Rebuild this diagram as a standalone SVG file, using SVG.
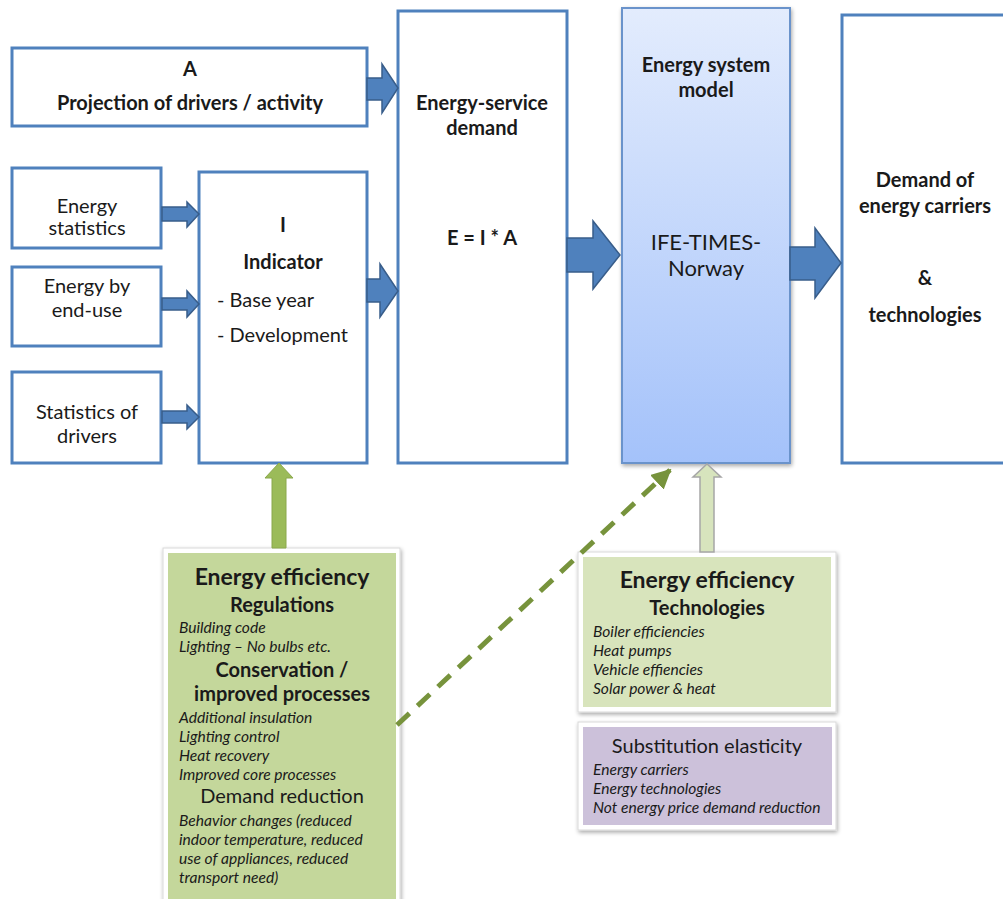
<svg xmlns="http://www.w3.org/2000/svg" width="1003" height="899" viewBox="0 0 1003 899">
<defs>
<style>
.box{fill:#fff;stroke:#4f81bd;stroke-width:3}
.arr{fill:#4f81bd;stroke:#385d8a;stroke-width:1.5}
text{font-family:Lato,"Liberation Sans",sans-serif;fill:#1a1a1a}
.t{font-size:20px}
.b{font-size:20px;font-weight:bold}
.c{text-anchor:middle}
.big{font-size:23px;font-weight:bold}
.i{font-size:15.6px;font-style:italic}
</style>
<linearGradient id="gblue" x1="0" y1="0" x2="0" y2="1">
<stop offset="0" stop-color="#e3ecfd"/>
<stop offset="1" stop-color="#a4c2fa"/>
</linearGradient>
<filter id="sh" x="-10%" y="-10%" width="130%" height="130%">
<feGaussianBlur in="SourceAlpha" stdDeviation="2"/>
<feOffset dx="1" dy="2" result="o"/>
<feComponentTransfer><feFuncA type="linear" slope="0.35"/></feComponentTransfer>
<feMerge><feMergeNode/><feMergeNode in="SourceGraphic"/></feMerge>
</filter>
<marker id="gh" viewBox="0 0 10 10" refX="9" refY="5" markerWidth="4" markerHeight="4" orient="auto" markerUnits="strokeWidth">
<path d="M0,0 L10,5 L0,10 z" fill="#77933c"/>
</marker>
</defs>
<rect width="1003" height="899" fill="#fff"/>

<g id="nodeA">
<rect class="box" x="12" y="48" width="355" height="78"/>
<text class="b c" x="190" y="76">A</text>
<text class="b c" x="190" y="110">Projection of drivers / activity</text>
</g>

<g id="nodeStat">
<rect class="box" x="12" y="168" width="149" height="80"/>
<text class="t c" x="87" y="213">Energy</text>
<text class="t c" x="87" y="235">statistics</text>
</g>

<g id="nodeEndUse">
<rect class="box" x="12" y="267" width="149" height="79"/>
<text class="t c" x="87" y="293">Energy by</text>
<text class="t c" x="87" y="317">end-use</text>
</g>

<g id="nodeDrivers">
<rect class="box" x="12" y="372" width="149" height="91"/>
<text class="t c" x="87" y="419">Statistics of</text>
<text class="t c" x="87" y="443">drivers</text>
</g>

<g id="nodeIndicator">
<rect class="box" x="199" y="172" width="168" height="291"/>
<text class="b c" x="283" y="232">I</text>
<text class="b c" x="283" y="269">Indicator</text>
<text class="t" x="217" y="307">- Base year</text>
<text class="t" x="217" y="342">- Development</text>
</g>

<g id="nodeESD">
<rect class="box" x="398" y="11" width="169" height="452"/>
<text class="b c" x="482" y="110">Energy-service</text>
<text class="b c" x="482" y="135">demand</text>
<text class="b c" x="482" y="245">E = I * A</text>
</g>

<g id="nodeIFE">
<rect x="622" y="8" width="168" height="455" fill="url(#gblue)" stroke="#6b93cb" stroke-width="2" filter="url(#sh)"/>
<text class="b c" x="706" y="72">Energy system</text>
<text class="b c" x="706" y="97">model</text>
<text class="c" x="706" y="250" style="font-size:22px">IFE-TIMES-</text>
<text class="c" x="706" y="276" style="font-size:22px">Norway</text>
</g>

<g id="nodeDemand">
<rect class="box" x="842" y="15" width="175" height="448"/>
<text class="b c" x="925" y="187">Demand of</text>
<text class="b c" x="925" y="213">energy carriers</text>
<text class="b c" x="925" y="285">&amp;</text>
<text class="b c" x="925" y="322">technologies</text>
</g>

<g id="nodeEELeft">
<rect x="163" y="548" width="237" height="360" fill="#fff" stroke="#d9d9d9" stroke-width="1" filter="url(#sh)"/>
<rect x="168" y="553" width="228" height="355" fill="#c4d79b"/>
<text class="big c" x="282" y="585">Energy efficiency</text>
<text class="b c" x="282" y="612">Regulations</text>
<text class="i" x="179" y="633">Building code</text>
<text class="i" x="179" y="652">Lighting – No bulbs etc.</text>
<text class="b c" x="282" y="677">Conservation /</text>
<text class="b c" x="282" y="701">improved processes</text>
<text class="i" x="179" y="723">Additional insulation</text>
<text class="i" x="179" y="742">Lighting control</text>
<text class="i" x="179" y="761">Heat recovery</text>
<text class="i" x="179" y="780">Improved core processes</text>
<text class="t c" x="282" y="803">Demand reduction</text>
<text class="i" x="179" y="826">Behavior changes (reduced</text>
<text class="i" x="179" y="845">indoor temperature, reduced</text>
<text class="i" x="179" y="864">use of appliances, reduced</text>
<text class="i" x="179" y="883">transport need)</text>
</g>

<g id="nodeEERight">
<rect x="578" y="552" width="258" height="160" fill="#fff" stroke="#d9d9d9" stroke-width="1" filter="url(#sh)"/>
<rect x="583" y="557" width="248" height="150" fill="#d8e4bc"/>
<text class="big c" x="707" y="588">Energy efficiency</text>
<text class="b c" x="707" y="615">Technologies</text>
<text class="i" x="593" y="637">Boiler efficiencies</text>
<text class="i" x="593" y="656">Heat pumps</text>
<text class="i" x="593" y="675">Vehicle effiencies</text>
<text class="i" x="593" y="694">Solar power &amp; heat</text>
</g>

<g id="nodeSubst">
<rect x="578" y="722" width="258" height="108" fill="#fff" stroke="#d9d9d9" stroke-width="1" filter="url(#sh)"/>
<rect x="583" y="727" width="249" height="98" fill="#ccc1da"/>
<text class="t c" x="707" y="753">Substitution elasticity</text>
<text class="i" x="593" y="775">Energy carriers</text>
<text class="i" x="593" y="794">Energy technologies</text>
<text class="i" x="593" y="813">Not energy price demand reduction</text>
</g>

<g id="connectors">
<path class="arr" d="M367,78 H382 V64 L398,88 L382,113 V100 H367 Z"/>
<path class="arr" d="M162,207 H187 V202 L199,214 L187,227 V221 H162 Z"/>
<path class="arr" d="M162,298 H187 V291 L199,304 L187,317 V310 H162 Z"/>
<path class="arr" d="M162,411 H187 V405 L199,417 L187,429 V423 H162 Z"/>
<path class="arr" d="M367,279 H380 V264 L398,291 L380,317 V302 H367 Z"/>
<path class="arr" d="M567,238 H593 V221 L620,255 L593,289 V272 H567 Z"/>
<path class="arr" d="M790,247 H815 V228 L841,263 L815,298 V280 H790 Z"/>
<path d="M272,548 V478 H265 L279,463 L293,478 H286 V548 Z" fill="#9bbb59" stroke="#8aa84c" stroke-width="1"/>
<path d="M700,552 V477 H693 L707,464 L721,477 H714 V552 Z" fill="#d7e4bd" stroke="#a6a6a6" stroke-width="1.5"/>
<line x1="397" y1="725" x2="670" y2="470" stroke="#77933c" stroke-width="5" stroke-dasharray="17 11" marker-end="url(#gh)"/>
</g>
</svg>
